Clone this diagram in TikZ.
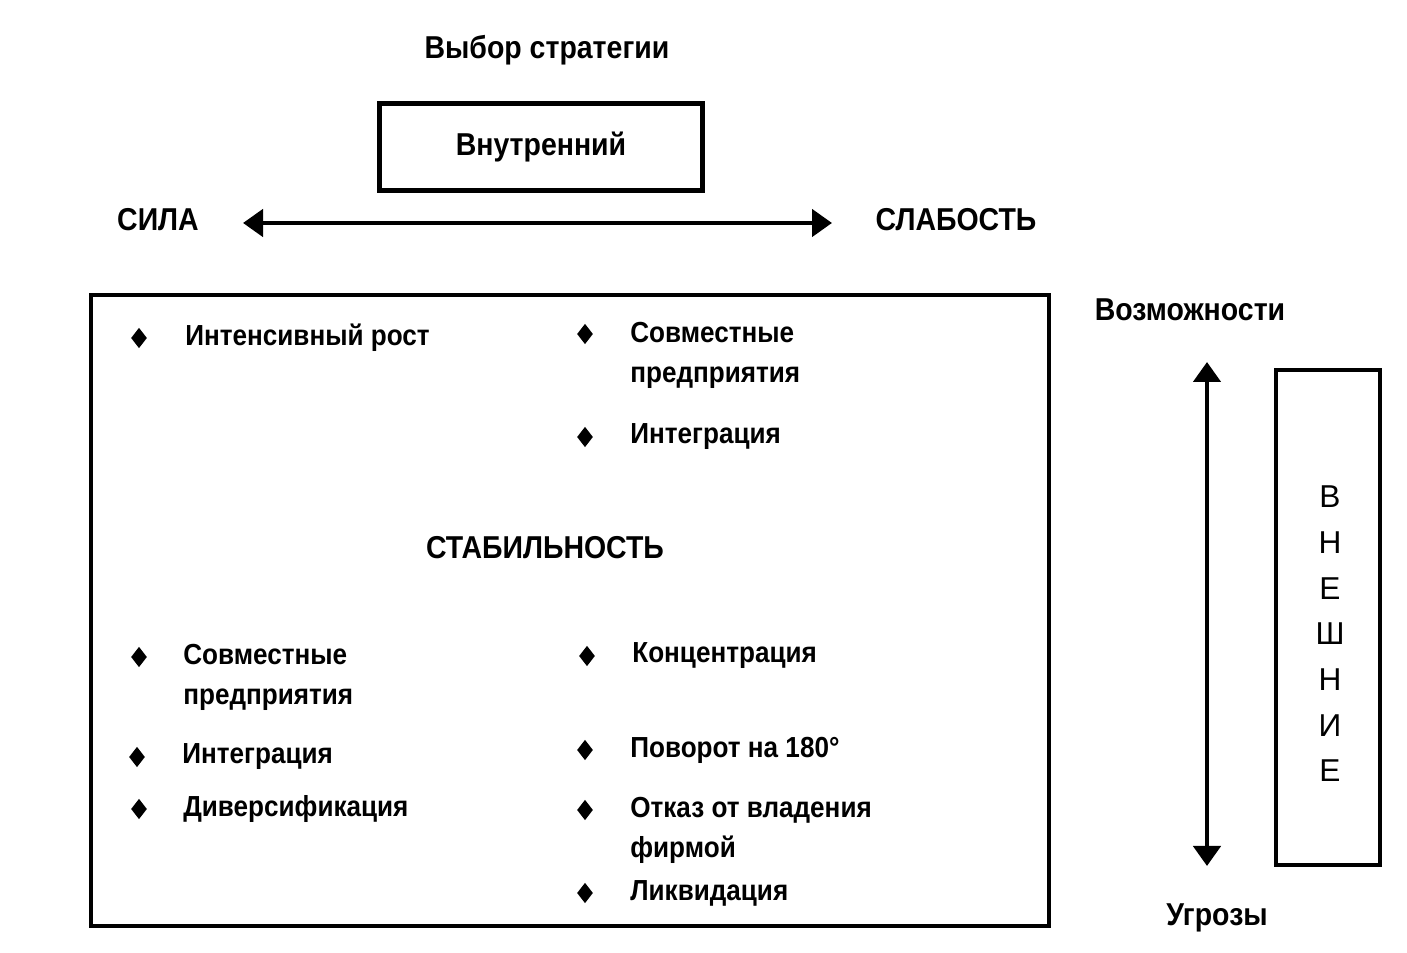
\documentclass[tikz,border=0pt]{standalone}
\usepackage{fontspec}
\setmainfont{Liberation Sans}[FakeStretch=0.9]
\newfontfamily\plainfont{Liberation Sans}
\usetikzlibrary{shapes.geometric,arrows.meta}

\tikzset{
  boxframe/.style={draw, line width=2.4pt},
  biarrow/.style={line width=2.6pt, {Triangle[length=4mm,width=5.4mm]}-{Triangle[length=4mm,width=5.4mm]}},
  bullet/.style={diamond, fill, inner sep=0pt, aspect=0.75, minimum width=3.2mm, minimum height=4.1mm},
  entry/.style={anchor=west, align=left, inner sep=0pt, font=\fontsize{16.5}{22.7}\selectfont\bfseries},
  heading/.style={inner sep=0pt, font=\fontsize{18}{22}\selectfont\bfseries},
}

\begin{document}
\begin{tikzpicture}[x=0.2mm, y=-0.2mm]
\useasboundingbox (0,0) rectangle (1407,953);

% Top

\node (title) [heading] at (547,50) {Выбор стратегии};
\node (inner) [boxframe, heading, minimum width=64.6mm, minimum height=17.4mm] at (541,147) {Внутренний};

\node (sila) [heading] at (158,220) {СИЛА};
\node (slab) [heading] at (956,220) {СЛАБОСТЬ};
\coordinate (wL) at (243,223);
\coordinate (wR) at (832,223);
\draw [biarrow] (wL) -- (wR);

% Main box

\draw [boxframe] (91,295) rectangle (1049,926);

\node (stab) [heading] at (545,548) {СТАБИЛЬНОСТЬ};

\node (b1) [bullet] at (139,338) {};
\node (e1) [entry] at (185,338) {Интенсивный рост};
\node (b2) [bullet] at (585,334) {};
\node (e2) [entry] at (630,355) {Совместные\\предприятия};
\node (b3) [bullet] at (585,437) {};
\node (e3) [entry] at (630,437) {Интеграция};

\node (b4) [bullet] at (139,657) {};
\node (e4) [entry] at (183,677) {Совместные\\предприятия};
\node (b5) [bullet] at (137,757) {};
\node (e5) [entry] at (182,757) {Интеграция};
\node (b6) [bullet] at (139,809) {};
\node (e6) [entry] at (183,809) {Диверсификация};

\node (b7) [bullet] at (587,656) {};
\node (e7) [entry] at (632,656) {Концентрация};
\node (b8) [bullet] at (585,750) {};
\node (e8) [entry] at (630,750) {Поворот на 180°};
\node (b9) [bullet] at (585,810) {};
\node (e9) [entry] at (630,830) {Отказ от владения\\фирмой};
\node (b10) [bullet] at (585,893) {};
\node (e10) [entry] at (630,893) {Ликвидация};

% Right side

\node (opp) [heading] at (1190,310) {Возможности};
\node (thr) [heading] at (1217,918) {Угрозы};
\coordinate (hT) at (1207,362);
\coordinate (hB) at (1207,866);
\draw [biarrow] (hT) -- (hB);

\draw [boxframe] (1276,370) rectangle (1380,865);
\node (ext) [align=center, font=\plainfont\fontsize{18}{26}\selectfont] at (1330,634) {В\\Н\\Е\\Ш\\Н\\И\\Е};
\end{tikzpicture}
\end{document}
